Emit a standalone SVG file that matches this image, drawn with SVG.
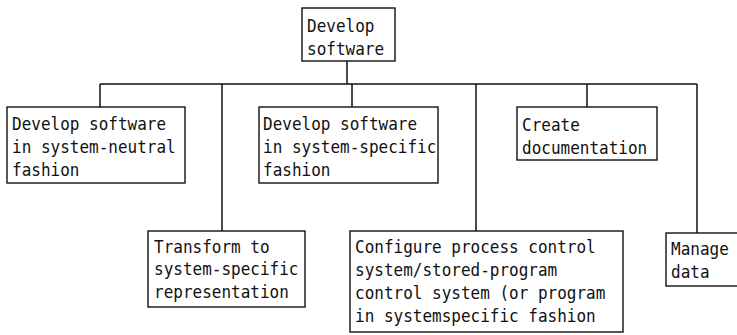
<svg xmlns="http://www.w3.org/2000/svg" width="737" height="335" viewBox="0 0 737 335">
<style>
rect{fill:#fff;stroke:#111;stroke-width:1.4}
.c{fill:none;stroke:#111;stroke-width:1.5}
text{font-family:"DejaVu Sans Mono","Liberation Mono",monospace;font-size:16px;fill:#111}
</style>
<rect x="0" y="0" width="737" height="335" style="stroke:none"/>
<g id="connectors" class="c">
<path d="M347 61V84M100 84H697M100 84V107M222 84V231M352 84V107M476 84V231M587 84V107M697 84V233"/>
</g>
<g id="n0"><rect x="302" y="8" width="93" height="53"/><g transform="translate(307 32) scale(1 1.15)"><text y="0">Develop</text><text y="20">software</text></g></g>
<g id="n1"><rect x="7" y="107" width="178" height="76"/><g transform="translate(12 130) scale(1 1.15)"><text y="0">Develop software</text><text y="20">in system-neutral</text><text y="40">fashion</text></g></g>
<g id="n2"><rect x="148" y="231" width="157" height="76"/><g transform="translate(154 253) scale(1 1.15)"><text y="0">Transform to</text><text y="19.5">system-specific</text><text y="39">representation</text></g></g>
<g id="n3"><rect x="259" y="107" width="179" height="76"/><g transform="translate(263 130) scale(1 1.15)"><text y="0">Develop software</text><text y="20">in system-specific</text><text y="40">fashion</text></g></g>
<g id="n4"><rect x="350" y="231" width="273" height="101"/><g transform="translate(355 253) scale(1 1.15)"><text y="0">Configure process control</text><text y="20">system/stored-program</text><text y="40">control system (or program</text><text y="60">in systemspecific fashion</text></g></g>
<g id="n5"><rect x="517" y="107" width="140" height="53"/><g transform="translate(522 131) scale(1 1.15)"><text y="0">Create</text><text y="20">documentation</text></g></g>
<g id="n6"><rect x="666" y="233" width="80" height="53"/><g transform="translate(671 255) scale(1 1.15)"><text y="0">Manage</text><text y="20">data</text></g></g>
</svg>
